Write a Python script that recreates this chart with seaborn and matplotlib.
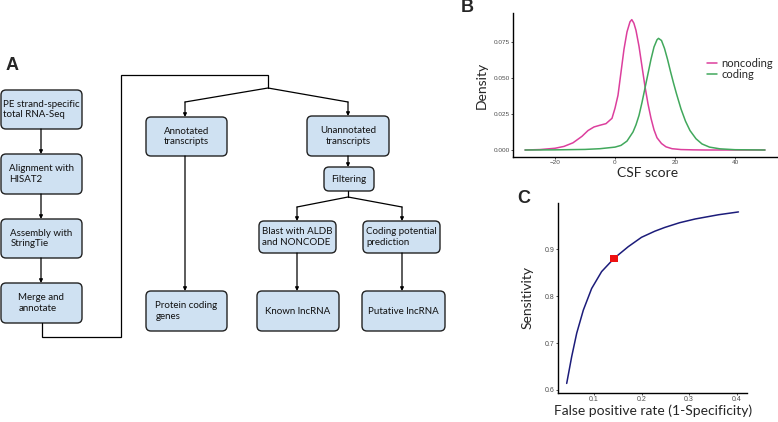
import pandas as pd
import seaborn as sns
import matplotlib.pyplot as plt
from matplotlib.patches import FancyBboxPatch

# ---- data -------------------------------------------------------------
box_labels = [
    "PE strand-specific\ntotal RNA-Seq",
    "Alignment with\nHISAT2",
    "Assembly with\nStringTie",
    "Merge and\nannotate",
    "Annotated\ntranscripts",
    "Unannotated\ntranscripts",
    "Filtering",
    "Blast with ALDB\nand NONCODE",
    "Coding potential\nprediction",
    "Protein coding\ngenes",
    "Known lncRNA",
    "Putative lncRNA",
]

nc_x = [-30, -25, -20, -17, -14, -11, -9, -7, -5, -3, -1, 0, 1, 2, 3, 4, 5, 5.6,
        6.3, 7, 8, 9, 10, 11, 12, 13, 14, 15.5, 17, 19, 22, 26, 30, 40, 50]
nc_y = [0.0, 0.0003, 0.0012, 0.0025, 0.0050, 0.0095, 0.0135, 0.0160, 0.0172, 0.0183,
        0.0220, 0.0290, 0.0380, 0.0540, 0.0700, 0.0820, 0.0890, 0.0905,
        0.0880, 0.0830, 0.0720, 0.0580, 0.0440, 0.0320, 0.0220, 0.0140, 0.0085,
        0.0045, 0.0022, 0.0009, 0.0003, 0.0001, 0.0, 0.0, 0.0]

cod_x = [-30, -20, -10, -5, 0, 2, 4, 6, 7, 8, 9, 10, 11, 12, 13, 14, 14.5, 15.5,
         16.5, 17.5, 18.5, 19.5, 20.5, 22, 23.5, 25, 27, 29, 31.5, 35, 40, 45, 50]
cod_y = [0.0, 0.0001, 0.0004, 0.0009, 0.0020, 0.0032, 0.0062, 0.0125, 0.0175, 0.0240,
         0.0330, 0.0430, 0.0530, 0.0630, 0.0715, 0.0765, 0.0775, 0.0760,
         0.0705, 0.0630, 0.0545, 0.0465, 0.0390, 0.0285, 0.0200, 0.0135, 0.0078,
         0.0042, 0.0020, 0.0008, 0.0002, 0.0001, 0.0]

fpr = [0.0425, 0.053, 0.0636, 0.0775, 0.095, 0.116, 0.142, 0.172, 0.200, 0.228,
       0.249, 0.28, 0.313, 0.362, 0.404]
tpr = [0.614, 0.671, 0.721, 0.770, 0.816, 0.852, 0.880, 0.905, 0.925, 0.938,
       0.946, 0.956, 0.964, 0.973, 0.979]
cut_fpr = [0.142]
cut_tpr = [0.880]

# ---- layout (pixels) --------------------------------------------------
box_rects = [
    (1, 90, 81, 39), (1, 154, 81, 40), (1, 219, 81, 39), (1, 283, 81, 40),
    (146, 117, 81, 39), (307, 116, 82, 40), (324, 167, 50, 24),
    (259, 221, 77, 32), (363, 221, 77, 32),
    (146, 291, 81, 40), (257, 291, 82, 40), (362, 291, 83, 40),
]
box_align = ["left", "left", "left", "left", "center", "center", "center",
             "left", "left", "left", "center", "center"]

sns.set_style("ticks")
plt.rcParams["font.family"] = ["Lato", "DejaVu Sans"]

W, H = 778, 422
fig = plt.figure(figsize=(W / 100, H / 100), dpi=100)

# flowchart
axf = fig.add_axes([0, 0, 1, 1])
axf.set_xlim(0, W)
axf.set_ylim(H, 0)
axf.axis("off")

for lab, (x0, y0, w, h), al in zip(box_labels, box_rects, box_align):
    axf.add_patch(FancyBboxPatch((x0, y0), w, h,
                                 boxstyle="round,pad=0,rounding_size=5",
                                 fc="#cfe1f2", ec="#222222", lw=1.0))
    axf.text(x0 + w / 2, y0 + h / 2, lab, ha="center", va="center",
             multialignment=al, fontsize=7.0, color="#111111", linespacing=1.25)

def arrow(p0, p1):
    axf.annotate("", xy=p1, xytext=p0,
                 arrowprops=dict(arrowstyle="-|>", lw=0.9, color="k",
                                 mutation_scale=5, shrinkA=0, shrinkB=0))

def line(xs, ys):
    axf.plot(xs, ys, color="k", lw=0.9, solid_joinstyle="miter")

arrow((41, 129), (41, 154))
arrow((41, 194), (41, 219))
arrow((41, 258), (41, 283))
line([42, 42, 121, 121, 268, 268], [323, 337, 337, 75, 75, 88])
line([185, 268, 348], [102, 88, 102])
arrow((185, 102), (185, 117))
arrow((348, 102), (348, 116))
arrow((185, 156), (185, 291))
arrow((348, 156), (348, 167))
line([297, 348, 402], [207, 197, 207])
line([348, 348], [191, 197])
arrow((297, 207), (297, 221))
arrow((402, 207), (402, 221))
arrow((297, 253), (297, 291))
arrow((402, 253), (402, 291))

# panel B
def px_axes(x0, y0, x1, y1):
    return fig.add_axes([x0 / W, 1 - y1 / H, (x1 - x0) / W, (y1 - y0) / H])

axb = px_axes(513, 13, 777, 157)
axb.patch.set_alpha(0)
dens = pd.concat([
    pd.DataFrame({"score": nc_x, "density": nc_y, "type": "noncoding"}),
    pd.DataFrame({"score": cod_x, "density": cod_y, "type": "coding"}),
])
sns.lineplot(data=dens, x="score", y="density", hue="type", ax=axb,
             palette={"noncoding": "#dc3f9d", "coding": "#41a85c"},
             lw=1.1, sort=False, estimator=None)
axb.set_xlim(-34, 54)
axb.set_ylim(-0.00486, 0.0951)
axb.set_xticks([-20, 0, 20, 40])
axb.set_yticks([0, 0.025, 0.05, 0.075])
axb.set_yticklabels(["0.000", "0.025", "0.050", "0.075"])
axb.set_xlabel("CSF score", fontsize=10)
axb.set_ylabel("Density", fontsize=10)
axb.xaxis.set_label_coords(0.511, -0.07)
axb.yaxis.set_label_coords(-0.095, 0.5)
axb.legend(loc="upper left", bbox_to_anchor=(0.735, 0.69), frameon=False,
           fontsize=8, handlelength=0.9, handletextpad=0.4, labelspacing=0.0,
           borderpad=0, borderaxespad=0, title=None)

# panel C
axc = px_axes(558, 203, 747, 393)
axc.patch.set_alpha(0)
roc = pd.DataFrame({"fpr": fpr, "tpr": tpr})
sns.lineplot(data=roc, x="fpr", y="tpr", ax=axc, color="#1c1c7a", lw=1.1,
             sort=False, estimator=None)
sns.scatterplot(x=cut_fpr, y=cut_tpr, ax=axc, marker="s", color="#ee1111",
                s=28, edgecolor="none", zorder=5)
axc.set_xlim(0.0242, 0.422)
axc.set_ylim(0.5936, 0.998)
axc.set_xticks([0.1, 0.2, 0.3, 0.4])
axc.set_yticks([0.6, 0.7, 0.8, 0.9])
axc.set_xlabel("False positive rate (1-Specificity)", fontsize=10)
axc.set_ylabel("Sensitivity", fontsize=10)
axc.xaxis.set_label_coords(0.503, -0.058)
axc.yaxis.set_label_coords(-0.132, 0.505)

for ax, fs in [(axb, 4.6), (axc, 5.0)]:
    sns.despine(ax=ax)
    for s in ["left", "bottom"]:
        ax.spines[s].set_linewidth(1.0)
        ax.spines[s].set_color("black")
    ax.tick_params(length=1.5, width=0.6, color="#333333", labelsize=fs,
                   labelcolor="#4d4d4d", pad=1.0)
    for t in ax.get_xticklabels() + ax.get_yticklabels():
        t.set_family(["Liberation Sans", "DejaVu Sans"])

# panel letters
for lab, (x, y) in zip("ABC", [(12, 66), (467, 8), (524, 199)]):
    fig.text(x / W, 1 - y / H, lab, ha="center", va="center", fontsize=13,
             fontweight="bold", family=["Liberation Sans", "DejaVu Sans"])

fig.savefig("out.png", dpi=100)
